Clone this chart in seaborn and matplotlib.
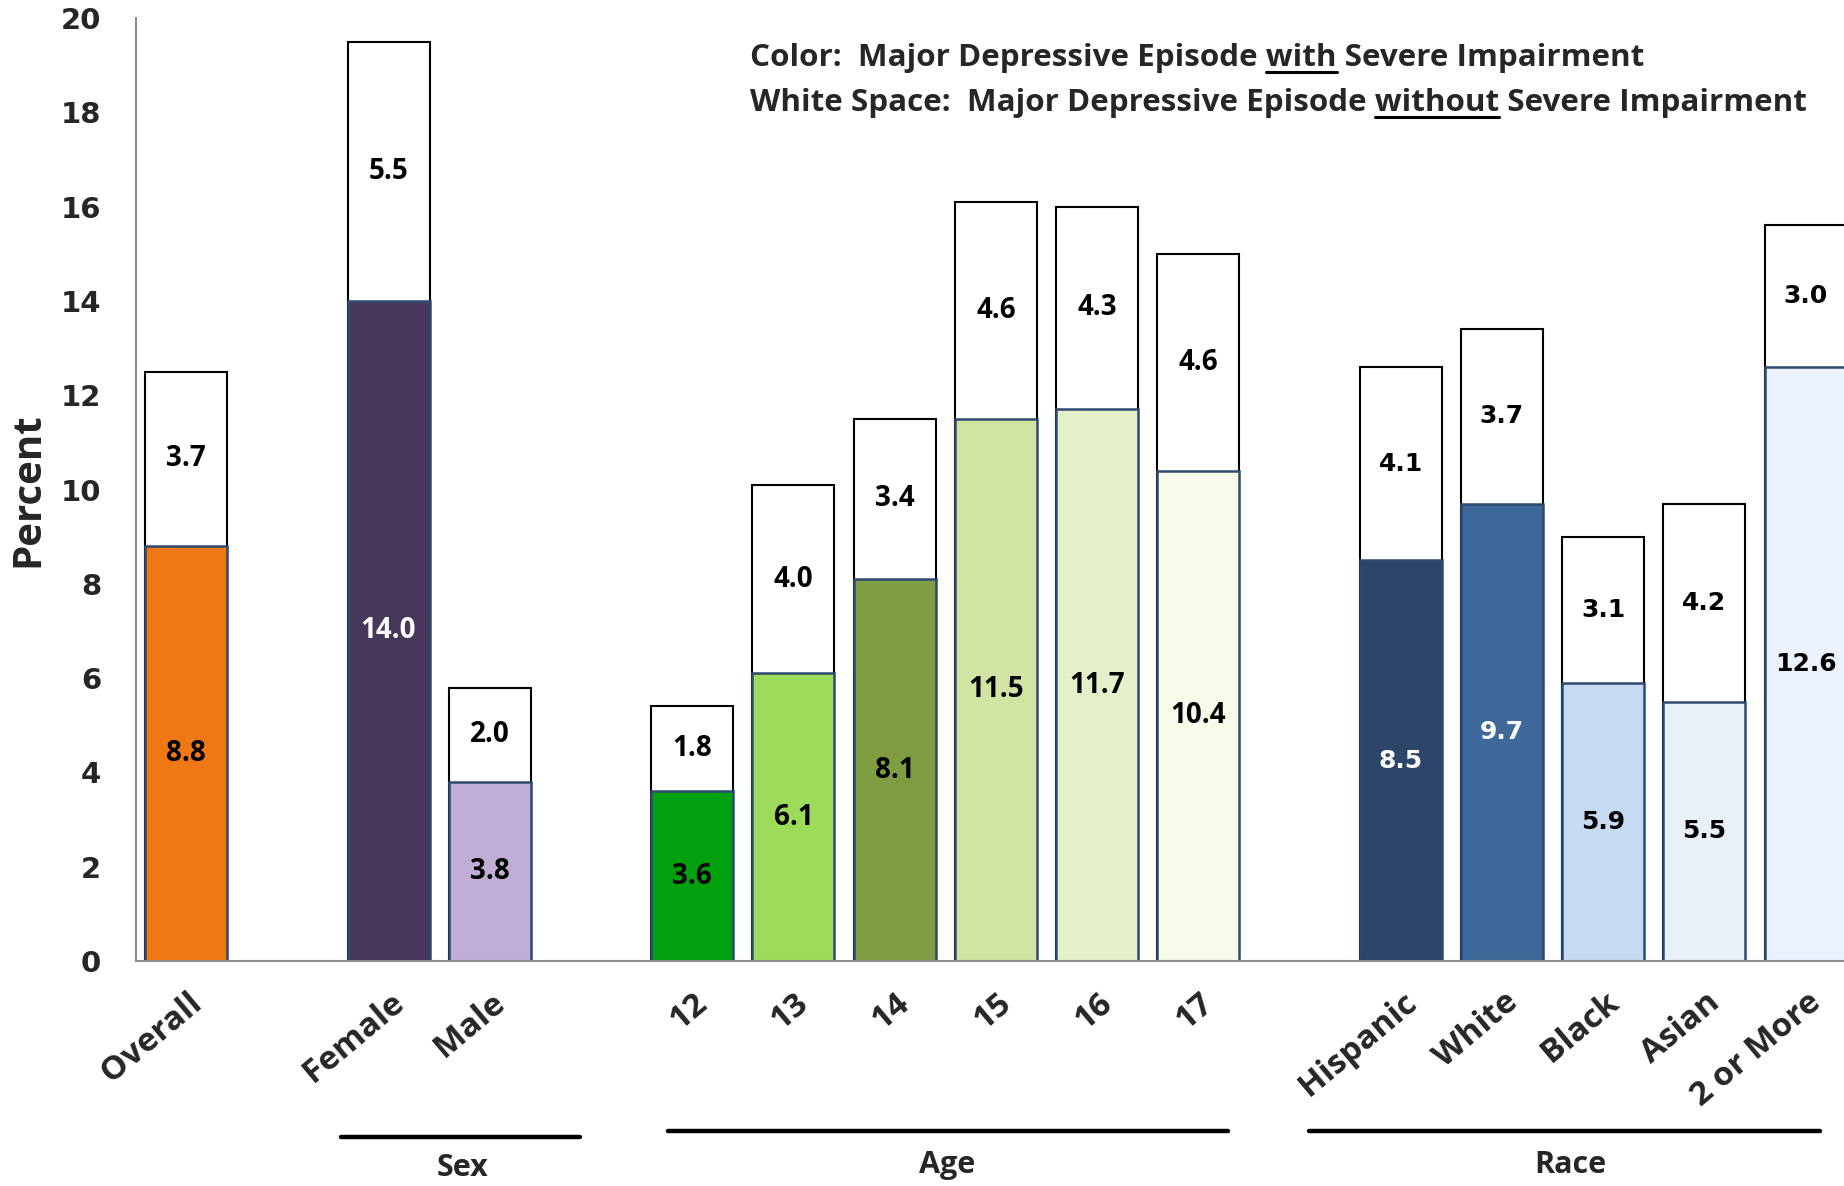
import matplotlib
matplotlib.use("Agg")
import matplotlib.pyplot as plt
import matplotlib.transforms as mtrans
from matplotlib.lines import Line2D
import seaborn as sns
import pandas as pd

categories = ["Overall", "Female", "Male", "12", "13", "14", "15", "16", "17",
              "Hispanic", "White", "Black", "Asian", "2 or More"]
with_severe = [8.8, 14.0, 3.8, 3.6, 6.1, 8.1, 11.5, 11.7, 10.4, 8.5, 9.7, 5.9, 5.5, 12.6]
without_severe = [3.7, 5.5, 2.0, 1.8, 4.0, 3.4, 4.6, 4.3, 4.6, 4.1, 3.7, 3.1, 4.2, 3.0]
bar_colors = ["#F07814", "#47375A", "#C0AED6", "#00A00E", "#9CDC5A", "#7E9C42",
              "#D0E4A4", "#E4F0CA", "#F7FBEA", "#2B4669", "#3D6899", "#C6DAF1",
              "#E8F0FA", "#EAF3FD"]
white_text = ["Female", "Hispanic", "White"]
race = ["Hispanic", "White", "Black", "Asian", "2 or More"]

# empty slots separate the groups
order = ["Overall", " ", "Female", "Male", "  ", "12", "13", "14", "15", "16", "17",
         "   ", "Hispanic", "White", "Black", "Asian", "2 or More"]

df = pd.DataFrame({"category": categories, "severe": with_severe, "without": without_severe})
df["total"] = df["severe"] + df["without"]

sns.set_style("white")
plt.rcParams["font.family"] = ["Open Sans", "DejaVu Sans"]

fig = plt.figure(figsize=(18.44, 11.86), dpi=100)
ax = fig.add_axes([0.0738, 0.1897, 0.9262, 0.7951])

sns.barplot(data=df, x="category", y="total", order=order, color="white",
            edgecolor="black", linewidth=1.5, width=0.81, saturation=1,
            errorbar=None, ax=ax)
sns.barplot(data=df, x="category", y="severe", order=order, hue="category",
            hue_order=categories, palette=dict(zip(categories, bar_colors)),
            edgecolor="#2E4A70", linewidth=1.8, width=0.81, saturation=1,
            dodge=False, errorbar=None, legend=False, ax=ax)

for _, row in df.iterrows():
    pos = order.index(row["category"])
    if row["category"] in race:
        fam, fs = "DejaVu Sans", 18
    else:
        fam, fs = "Open Sans", 20
    col = "white" if row["category"] in white_text else "black"
    ax.text(pos, row["severe"] / 2, f"{row['severe']:.1f}", ha="center", va="center",
            fontsize=fs, fontweight="bold", family=fam, color=col)
    ax.text(pos, row["severe"] + row["without"] / 2, f"{row['without']:.1f}",
            ha="center", va="center", fontsize=fs, fontweight="bold", family=fam,
            color="black")

ax.set_xlim(-0.494, 16.38)
ax.set_ylim(0, 20)
ax.set_yticks(range(0, 21, 2))
ax.set_xlabel("")
ax.set_ylabel("Percent", fontsize=29, fontweight="bold")
ax.yaxis.set_label_coords(-0.052, 0.5)

for s in ["top", "right"]:
    ax.spines[s].set_visible(False)
for s in ["left", "bottom"]:
    ax.spines[s].set_color("#8C8C8C")
    ax.spines[s].set_linewidth(1.5)

ax.tick_params(axis="y", length=9, width=1.5, color="#8C8C8C", pad=16)
ax.tick_params(axis="x", length=0, pad=18)
for lbl in ax.get_yticklabels():
    lbl.set_family("DejaVu Sans")
    lbl.set_fontweight("bold")
    lbl.set_fontsize(21)

shift = mtrans.ScaledTranslation(1 / 100, 0, fig.dpi_scale_trans)
for lbl in ax.get_xticklabels():
    lbl.set_rotation(40)
    lbl.set_ha("right")
    lbl.set_va("top")
    lbl.set_rotation_mode("anchor")
    lbl.set_fontsize(24)
    lbl.set_fontweight("bold")
    lbl.set_transform(lbl.get_transform() + shift)

# group brackets under the axis
xt = ax.get_xaxis_transform()
for name, x0, x1, yl, yt, xc in [("Sex", 1.53, 3.89, -0.187, -0.219, 2.73),
                                 ("Age", 4.76, 10.29, -0.180, -0.216, 7.52),
                                 ("Race", 11.09, 16.14, -0.180, -0.216, 13.68)]:
    ax.plot([x0, x1], [yl, yl], transform=xt, clip_on=False, color="black", lw=3.2)
    ax.text(xc, yt, name, transform=xt, ha="center", va="center", fontsize=22,
            fontweight="bold")

# legend text with underlined words
lines = [("Color:  Major Depressive Episode ", "with", " Severe Impairment", 1 - 66 / 1186),
         ("White Space:  Major Depressive Episode ", "without", " Severe Impairment", 1 - 111 / 1186)]
txts = []
for pre, word, post, y in lines:
    t = fig.text(750 / 1844, y, pre + word + post, fontsize=22.6, fontweight="bold",
                 ha="left", va="baseline")
    txts.append(t)

fig.canvas.draw()
r = fig.canvas.get_renderer()
for t, (pre, word, post, y) in zip(txts, lines):
    bb = t.get_window_extent(r)
    prop = t.get_fontproperties()
    w_all = r.get_text_width_height_descent(pre + word, prop, ismath=False)[0]
    w_word = r.get_text_width_height_descent(word, prop, ismath=False)[0]
    x1 = bb.x0 + w_all
    x0 = x1 - w_word
    yb = y * fig.bbox.height - 6
    fig.add_artist(Line2D([x0 / fig.bbox.width, x1 / fig.bbox.width],
                          [yb / fig.bbox.height, yb / fig.bbox.height],
                          color="black", lw=2.2, transform=fig.transFigure))

fig.savefig("out.png", dpi=100)
